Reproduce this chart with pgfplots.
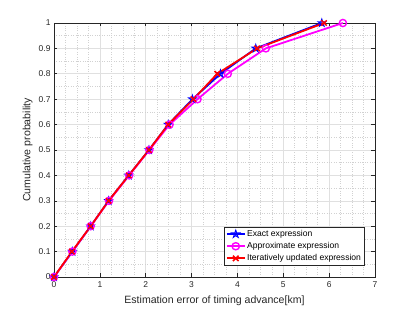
\documentclass[border=0pt]{standalone}
\usepackage{pgfplots}
\pgfplotsset{compat=1.18}
\usepackage{fontspec}
\setmainfont{Liberation Sans}
\definecolor{mblue}{rgb}{0,0,1}
\definecolor{mmag}{rgb}{1,0,1}
\definecolor{mred}{rgb}{1,0,0}
\definecolor{axc}{rgb}{0.15,0.15,0.15}
\pgfdeclareplotmark{pentagram}{%
  \pgfpathmoveto{\pgfqpointpolar{90}{\pgfplotmarksize}}%
  \pgfpathlineto{\pgfqpointpolar{126}{0.382\pgfplotmarksize}}%
  \pgfpathlineto{\pgfqpointpolar{162}{\pgfplotmarksize}}%
  \pgfpathlineto{\pgfqpointpolar{198}{0.382\pgfplotmarksize}}%
  \pgfpathlineto{\pgfqpointpolar{234}{\pgfplotmarksize}}%
  \pgfpathlineto{\pgfqpointpolar{270}{0.382\pgfplotmarksize}}%
  \pgfpathlineto{\pgfqpointpolar{306}{\pgfplotmarksize}}%
  \pgfpathlineto{\pgfqpointpolar{342}{0.382\pgfplotmarksize}}%
  \pgfpathlineto{\pgfqpointpolar{18}{\pgfplotmarksize}}%
  \pgfpathlineto{\pgfqpointpolar{54}{0.382\pgfplotmarksize}}%
  \pgfpathclose
  \pgfusepathqstroke}
\begin{document}
\begin{tikzpicture}
\useasboundingbox (-54bp,-35bp) rectangle (361bp,277bp);
\begin{axis}[
  scale only axis, width=321bp, height=254bp,
  xmin=0, xmax=7, ymin=0, ymax=1,
  xtick={0,1,...,7},
  ytick={0,0.1,0.2,0.3,0.4,0.5,0.6,0.7,0.8,0.9,1},
  minor x tick num=3, minor y tick num=1,
  grid=both,
  major grid style={color=black!12, line width=0.6pt},
  minor grid style={color=black!18, dotted, line width=0.5pt},
  axis line style={color=axc, line width=0.6pt},
  tick style={color=axc, line width=0.6pt},
  major tick length=3.5bp, minor tick length=0bp,
  tick align=inside,
  tick label style={font=\fontsize{8.5}{10}\selectfont, color=axc},
  xticklabel style={yshift=-1bp},
  /pgf/number format/assume math mode=true,
  xlabel={Estimation error of timing advance[km]},
  ylabel={Cumulative probability},
  every axis x label/.style={at={(axis description cs:0.5,0)}, anchor=north, yshift=-15bp,
    font=\fontsize{10.6}{12}\selectfont, color=axc},
  every axis y label/.style={at={(axis description cs:0,0.5)}, xshift=-18bp, rotate=90, anchor=south,
    font=\fontsize{10.6}{12}\selectfont, color=axc},
  legend style={at={(0.967,0.045)}, anchor=south east, font=\fontsize{8.6}{10}\selectfont,
    draw=axc, line width=0.6pt, fill=white, inner sep=1.5pt, row sep=1.2pt,
    nodes={inner sep=1.6pt}},
  legend image post style={xscale=1.05},
  legend cell align=left,
  every axis plot/.append style={line width=1.8pt},
]
\addplot[color=mblue, mark=pentagram, mark options={solid, mark size=3.9pt, line width=1.0pt}]
coordinates {(0,0)(0.40,0.1)(0.80,0.2)(1.19,0.3)(1.63,0.4)(2.07,0.5)(2.49,0.6)(3.02,0.7)(3.63,0.8)(4.40,0.9)(5.84,1.0)};
\addlegendentry{Exact expression}
\addplot[color=mmag, mark=o, mark options={solid, mark size=3.6pt, line width=1.4pt}]
coordinates {(0,0)(0.40,0.1)(0.80,0.2)(1.20,0.3)(1.64,0.4)(2.08,0.5)(2.52,0.6)(3.13,0.7)(3.79,0.8)(4.62,0.9)(6.30,1.0)};
\addlegendentry{Approximate expression}
\addplot[color=mred, mark=x, mark options={solid, mark size=3.8pt, line width=1.5pt}]
coordinates {(0,0)(0.39,0.1)(0.80,0.2)(1.19,0.3)(1.63,0.4)(2.07,0.5)(2.49,0.6)(3.04,0.7)(3.56,0.8)(4.43,0.9)(5.89,1.0)};
\addlegendentry{Iteratively updated expression}
\end{axis}
\end{tikzpicture}
\end{document}
